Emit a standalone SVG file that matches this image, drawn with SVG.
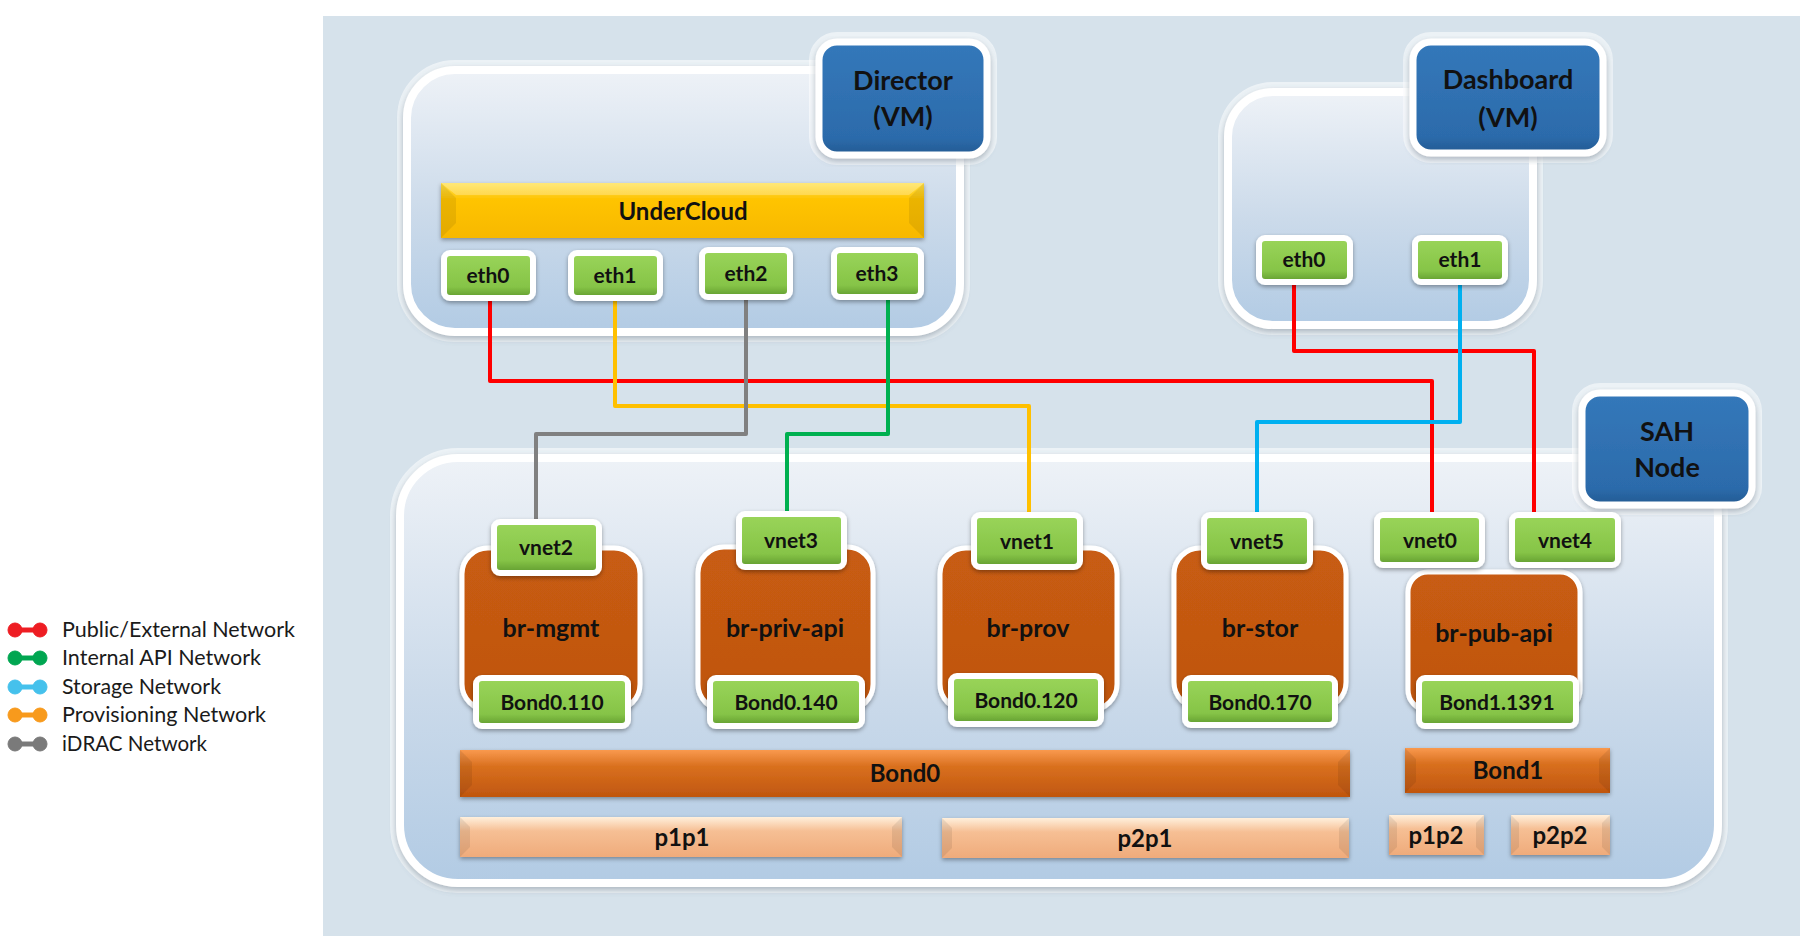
<svg xmlns="http://www.w3.org/2000/svg" width="1815" height="951" viewBox="0 0 1815 951">
<defs>
<linearGradient id="gCont" x1="0" y1="0" x2="0" y2="1">
<stop offset="0" stop-color="#eef2f7"/><stop offset="0.55" stop-color="#cbdaea"/><stop offset="1" stop-color="#b2cbe4"/>
</linearGradient>
<linearGradient id="gGreen" x1="0" y1="0" x2="0" y2="1">
<stop offset="0" stop-color="#9ad55a"/><stop offset="0.75" stop-color="#86c447"/><stop offset="1" stop-color="#5f9a2e"/>
</linearGradient>
<linearGradient id="gBlue" x1="0" y1="0" x2="0" y2="1">
<stop offset="0" stop-color="#3478ba"/><stop offset="0.85" stop-color="#2c6bab"/><stop offset="1" stop-color="#235a92"/>
</linearGradient>
<linearGradient id="gOrange" x1="0" y1="0" x2="0" y2="1">
<stop offset="0" stop-color="#c85c12"/><stop offset="1" stop-color="#bf5510"/>
</linearGradient>
<linearGradient id="gGold" x1="0" y1="0" x2="0" y2="1">
<stop offset="0" stop-color="#ffe04a"/><stop offset="0.3" stop-color="#ffc400"/><stop offset="1" stop-color="#f7b800"/>
</linearGradient>
<linearGradient id="gBond" x1="0" y1="0" x2="0" y2="1">
<stop offset="0" stop-color="#f9994e"/><stop offset="0.35" stop-color="#d9701f"/><stop offset="1" stop-color="#c0560f"/>
</linearGradient>
<linearGradient id="gPeach" x1="0" y1="0" x2="0" y2="1">
<stop offset="0" stop-color="#fff0dc"/><stop offset="0.35" stop-color="#f6bf94"/><stop offset="1" stop-color="#efab7b"/>
</linearGradient>
<filter id="sh" x="-10%" y="-10%" width="120%" height="130%">
<feDropShadow dx="0" dy="2" stdDeviation="2" flood-color="#000" flood-opacity="0.35"/>
</filter>
<filter id="shc" x="-5%" y="-5%" width="110%" height="115%">
<feDropShadow dx="0" dy="3" stdDeviation="3" flood-color="#5a6b7c" flood-opacity="0.45"/>
</filter>
</defs>
<style>
.panel{fill:#d6e2eb}
.halo{fill:none;stroke:#ffffff;stroke-opacity:0.55;stroke-width:20}
.cont{fill:url(#gCont);stroke:#ffffff;stroke-width:8;filter:url(#shc)}
.blue{fill:url(#gBlue);stroke:#ffffff;stroke-width:7;filter:url(#shc)}
.green{fill:url(#gGreen);stroke:#ffffff;stroke-width:6;filter:url(#sh)}
.br{fill:url(#gOrange);stroke:#ffffff;stroke-width:5;filter:url(#sh)}
.gold{fill:url(#gGold);filter:url(#sh)}
.bond{fill:url(#gBond);filter:url(#sh)}
.peach{fill:url(#gPeach);filter:url(#sh)}
.bev{fill:#000;fill-opacity:0.08}
.bevl{fill:#fff;fill-opacity:0.25}
.t{font-family:Lato,"Liberation Sans",sans-serif;font-weight:bold;fill:#111;text-anchor:middle}
.t21{font-size:21px}
.t24{font-size:24px}
.t25{font-size:25px}
.t27{font-size:27px}
.leg{font-family:Lato,"Liberation Sans",sans-serif;font-size:22px;fill:#1a1a1a}
.c{fill:none;stroke-width:4;stroke-linejoin:round}
</style>

<rect class="panel" x="323" y="16" width="1477" height="920"/>

<g id="legend">
<g stroke="#ee1d23" fill="#ee1d23"><line x1="15" y1="630" x2="40" y2="630" stroke-width="5"/><circle cx="15" cy="630" r="7"/><circle cx="40" cy="630" r="7"/></g>
<g stroke="#00a651" fill="#00a651"><line x1="15" y1="658" x2="40" y2="658" stroke-width="5"/><circle cx="15" cy="658" r="7"/><circle cx="40" cy="658" r="7"/></g>
<g stroke="#45c1ec" fill="#45c1ec"><line x1="15" y1="687" x2="40" y2="687" stroke-width="5"/><circle cx="15" cy="687" r="7"/><circle cx="40" cy="687" r="7"/></g>
<g stroke="#f89a1c" fill="#f89a1c"><line x1="15" y1="715" x2="40" y2="715" stroke-width="5"/><circle cx="15" cy="715" r="7"/><circle cx="40" cy="715" r="7"/></g>
<g stroke="#7a7a7a" fill="#7a7a7a"><line x1="15" y1="744" x2="40" y2="744" stroke-width="5"/><circle cx="15" cy="744" r="7"/><circle cx="40" cy="744" r="7"/></g>
<text class="leg" x="62" y="637" textLength="233" lengthAdjust="spacingAndGlyphs">Public/External Network</text>
<text class="leg" x="62" y="665" textLength="199" lengthAdjust="spacingAndGlyphs">Internal API Network</text>
<text class="leg" x="62" y="694" textLength="159" lengthAdjust="spacingAndGlyphs">Storage Network</text>
<text class="leg" x="62" y="722" textLength="204" lengthAdjust="spacingAndGlyphs">Provisioning Network</text>
<text class="leg" x="62" y="751" textLength="145" lengthAdjust="spacingAndGlyphs">iDRAC Network</text>
</g>

<g id="director-vm">
<rect class="halo" x="407" y="70" width="553" height="262" rx="48"/>
<rect class="cont" x="407" y="70" width="553" height="262" rx="48"/>
<rect class="halo" x="819" y="42" width="168" height="113" rx="18"/>
<rect class="blue" x="819" y="42" width="168" height="113" rx="18"/>
<text class="t t27" x="903" y="90">Director</text>
<text class="t t27" x="903" y="126">(VM)</text>
</g>

<g id="dashboard-vm">
<rect class="halo" x="1228" y="92" width="305" height="233" rx="45"/>
<rect class="cont" x="1228" y="92" width="305" height="233" rx="45"/>
<rect class="halo" x="1413" y="42" width="190" height="111" rx="18"/>
<rect class="blue" x="1413" y="42" width="190" height="111" rx="18"/>
<text class="t t27" x="1508" y="89">Dashboard</text>
<text class="t t27" x="1508" y="127">(VM)</text>
</g>

<g id="sah-node">
<rect class="halo" x="400" y="458" width="1318" height="425" rx="58"/>
<rect class="cont" x="400" y="458" width="1318" height="425" rx="58"/>
<rect class="halo" x="1582" y="393" width="170" height="112" rx="18"/>
<rect class="blue" x="1582" y="393" width="170" height="112" rx="18"/>
<text class="t t27" x="1667" y="441">SAH</text>
<text class="t t27" x="1667" y="477">Node</text>
</g>

<g id="connectors">
<path class="c" stroke="#ff0000" d="M490 300 V381 H1432 V515"/>
<path class="c" stroke="#ffc000" d="M615 299 V406 H1029 V515"/>
<path class="c" stroke="#808080" d="M746 297 V434 H536 V522"/>
<path class="c" stroke="#00b050" d="M888 297 V434 H787 V514"/>
<path class="c" stroke="#ff0000" d="M1294 282 V351 H1534 V515"/>
<path class="c" stroke="#00b0f0" d="M1460 282 V422 H1257 V515"/>
</g>

<g id="undercloud">
<rect class="gold" x="441" y="183" width="483" height="55"/>
<polygon class="bevl" points="441,183 924,183 909,195 456,195"/>
<polygon class="bev" points="441,183 456,198 456,223 441,238"/>
<polygon class="bev" points="924,183 909,198 909,223 924,238"/>
<text class="t t24" x="683" y="220">UnderCloud</text>
</g>

<g id="dir-eth0"><rect class="green" x="444" y="253" width="89" height="45" rx="6"/><text class="t t21" x="488" y="283">eth0</text></g>
<g id="dir-eth1"><rect class="green" x="571" y="253" width="89" height="45" rx="6"/><text class="t t21" x="615" y="283">eth1</text></g>
<g id="dir-eth2"><rect class="green" x="702" y="250" width="88" height="47" rx="6"/><text class="t t21" x="746" y="281">eth2</text></g>
<g id="dir-eth3"><rect class="green" x="834" y="250" width="87" height="47" rx="6"/><text class="t t21" x="877" y="281">eth3</text></g>

<g id="dash-eth0"><rect class="green" x="1259" y="238" width="91" height="44" rx="6"/><text class="t t21" x="1304" y="267">eth0</text></g>
<g id="dash-eth1"><rect class="green" x="1415" y="238" width="90" height="44" rx="6"/><text class="t t21" x="1460" y="267">eth1</text></g>

<g id="br-mgmt"><rect class="br" x="462" y="548" width="178" height="162" rx="26"/><text class="t t25" x="551" y="637">br-mgmt</text></g>
<g id="br-priv-api"><rect class="br" x="698" y="547" width="175" height="163" rx="26"/><text class="t t25" x="785" y="637">br-priv-api</text></g>
<g id="br-prov"><rect class="br" x="940" y="548" width="177" height="162" rx="26"/><text class="t t25" x="1028" y="637">br-prov</text></g>
<g id="br-stor"><rect class="br" x="1174" y="548" width="172" height="160" rx="26"/><text class="t t25" x="1260" y="637">br-stor</text></g>
<g id="br-pub-api"><rect class="br" x="1408" y="572" width="172" height="138" rx="20"/><text class="t t25" x="1494" y="642">br-pub-api</text></g>

<g id="vnet2"><rect class="green" x="494" y="522" width="105" height="51" rx="6"/><text class="t t21" x="546" y="555">vnet2</text></g>
<g id="vnet3"><rect class="green" x="739" y="514" width="105" height="53" rx="6"/><text class="t t21" x="791" y="548">vnet3</text></g>
<g id="vnet1"><rect class="green" x="974" y="515" width="106" height="52" rx="6"/><text class="t t21" x="1027" y="549">vnet1</text></g>
<g id="vnet5"><rect class="green" x="1204" y="515" width="106" height="52" rx="6"/><text class="t t21" x="1257" y="549">vnet5</text></g>
<g id="vnet0"><rect class="green" x="1377" y="515" width="105" height="50" rx="6"/><text class="t t21" x="1430" y="548">vnet0</text></g>
<g id="vnet4"><rect class="green" x="1512" y="515" width="106" height="50" rx="6"/><text class="t t21" x="1565" y="548">vnet4</text></g>

<g id="bond0-110"><rect class="green" x="476" y="678" width="152" height="48" rx="6"/><text class="t t21" x="552" y="710">Bond0.110</text></g>
<g id="bond0-140"><rect class="green" x="710" y="678" width="152" height="48" rx="6"/><text class="t t21" x="786" y="710">Bond0.140</text></g>
<g id="bond0-120"><rect class="green" x="951" y="676" width="150" height="48" rx="6"/><text class="t t21" x="1026" y="708">Bond0.120</text></g>
<g id="bond0-170"><rect class="green" x="1185" y="678" width="150" height="47" rx="6"/><text class="t t21" x="1260" y="710">Bond0.170</text></g>
<g id="bond1-1391"><rect class="green" x="1419" y="678" width="157" height="48" rx="6"/><text class="t t21" x="1497" y="710">Bond1.1391</text></g>

<g id="bond0">
<rect class="bond" x="460" y="750" width="890" height="47"/>
<polygon class="bev" points="460,750 472,762 472,785 460,797"/>
<polygon class="bev" points="1350,750 1338,762 1338,785 1350,797"/>
<text class="t t24" x="905" y="782">Bond0</text>
</g>
<g id="bond1">
<rect class="bond" x="1405" y="748" width="205" height="45"/>
<polygon class="bev" points="1405,748 1416,759 1416,782 1405,793"/>
<polygon class="bev" points="1610,748 1599,759 1599,782 1610,793"/>
<text class="t t24" x="1508" y="779">Bond1</text>
</g>
<g id="p1p1">
<rect class="peach" x="460" y="817" width="442" height="40"/>
<polygon class="bev" points="460,817 470,827 470,847 460,857"/>
<polygon class="bev" points="902,817 892,827 892,847 902,857"/>
<text class="t t24" x="682" y="846">p1p1</text>
</g>
<g id="p2p1">
<rect class="peach" x="942" y="818" width="407" height="40"/>
<polygon class="bev" points="942,818 952,828 952,848 942,858"/>
<polygon class="bev" points="1349,818 1339,828 1339,848 1349,858"/>
<text class="t t24" x="1145" y="847">p2p1</text>
</g>
<g id="p1p2">
<rect class="peach" x="1389" y="815" width="95" height="40"/>
<polygon class="bev" points="1389,815 1397,823 1397,847 1389,855"/>
<polygon class="bev" points="1484,815 1476,823 1476,847 1484,855"/>
<text class="t t24" x="1436" y="844">p1p2</text>
</g>
<g id="p2p2">
<rect class="peach" x="1511" y="815" width="99" height="40"/>
<polygon class="bev" points="1511,815 1519,823 1519,847 1511,855"/>
<polygon class="bev" points="1610,815 1602,823 1602,847 1610,855"/>
<text class="t t24" x="1560" y="844">p2p2</text>
</g>
</svg>
